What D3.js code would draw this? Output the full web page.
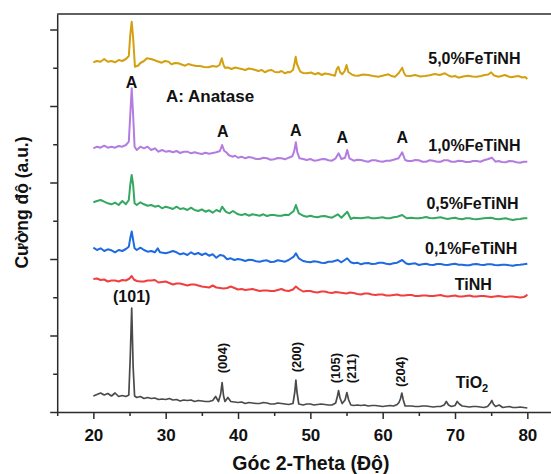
<!DOCTYPE html>
<html><head><meta charset="utf-8">
<script src="https://cdn.jsdelivr.net/npm/d3@7"></script>
<style>body{margin:0;background:#fff;} svg{display:block;font-family:"Liberation Sans",Arial,sans-serif;}</style>
</head><body>
<svg id="chart" width="551" height="474"></svg>
<script>
// ---- DATA (2-theta in degrees, intensity in arbitrary stacked units) ----
const xTicks = [20, 30, 40, 50, 60, 70, 80];
const xMinorTicks = [15, 25, 35, 45, 55, 65, 75, 85];
const yTicks = [0, 76.5, 153, 229.5, 306, 382.5];
const yMinorTicks = [38.25, 114.75, 191.25, 267.75, 344.25];

const tio2 = [[20,16],[20.5,17.5],[21,19],[21.5,17],[22,18.5],[22.5,16],[23,19],[23.5,15.5],[24,16.5],[24.5,15.5],[24.9,17],[25.1,55],[25.3,104],[25.5,45],[25.7,16],[26,14.5],[26.5,15.5],[27,13.5],[27.5,14.5],[28,13.5],[28.5,14],[29,12.5],[29.5,13],[30,12.5],[30.5,13.5],[31,12],[31.5,12.5],[32,11],[32.5,12],[33,11.5],[33.5,12],[34,10.5],[34.5,11.5],[35,11],[35.5,10.5],[36,10.5],[36.5,11.5],[36.9,15.5],[37.3,10.5],[37.6,18],[37.8,29.5],[38.0,16],[38.2,10.5],[38.6,14.5],[39,10.5],[39.5,10],[40,9.5],[40.5,10],[41,8.5],[41.5,9.5],[42,9],[42.5,8.5],[43,8.5],[43.5,9.5],[44,9],[44.5,8],[45,8],[45.5,9],[46,8.5],[46.5,8],[47,7.5],[47.6,8.5],[47.85,20],[48.0,32],[48.15,20],[48.4,8],[49,7],[49.5,8],[50,8],[50.5,7],[51,7.5],[51.5,8],[52,7.5],[52.5,7],[53,7],[53.5,9],[53.75,16],[53.9,21.5],[54.1,14],[54.4,8.5],[54.8,12],[55.05,19.5],[55.3,12],[55.6,7],[56,6.5],[56.5,7],[57,6.5],[57.5,7],[58,6],[58.5,6.5],[59,6.5],[59.5,6],[60,5.5],[60.5,6],[61,6.5],[61.5,6],[62,7.5],[62.25,9.5],[62.45,13],[62.65,19],[62.85,12],[63.1,6],[63.5,6],[64,6],[64.5,5.5],[65,5.5],[65.5,6],[66,6],[66.5,5.5],[67,5],[67.5,5.5],[68,5.5],[68.5,7],[68.8,10.5],[69.1,7],[69.5,5.5],[70,6.5],[70.3,10.5],[70.6,8],[71,6],[71.5,5.5],[72,5],[72.5,5.5],[73,5.5],[73.5,5],[74,4.5],[74.5,5.5],[74.9,9],[75.1,11.5],[75.3,8],[75.6,5.5],[76.1,7],[76.6,4.5],[77,5],[77.5,5.5],[78,4.5],[78.5,4.5],[79,5],[79.5,4.5],[80,4]];

const tinh = [[20,133],[20.5,133.5],[21,132],[21.5,132.5],[22,130.5],[22.5,131.5],[23,131.5],[23.5,130.5],[24,132],[24.5,131.5],[25,133.5],[25.3,136],[25.6,132.5],[26,131],[26.5,130.5],[27,130.5],[27.5,131.5],[28,131.5],[28.5,132],[29,129.5],[29.5,130],[30,130.5],[30.5,129],[31,127.5],[31.5,128.5],[32,128.5],[32.5,127.5],[33,126.5],[33.5,127.5],[34,127.5],[34.5,126.5],[35,125.5],[35.5,125],[36,124.5],[36.5,126.5],[37,124.5],[37.5,124],[38,123.5],[38.5,124],[39,125.5],[39.5,124],[40,122.5],[40.5,123],[41,122],[41.5,122.5],[42,123],[42.5,122],[43,121],[43.5,121.5],[44,121.5],[44.5,121],[45,121],[45.5,122],[46,123],[46.5,121.5],[47,121],[47.6,122.5],[48.0,125.5],[48.4,123],[49,120.5],[49.5,121],[50,121],[50.5,120],[51,119.5],[51.5,120.5],[52,120.5],[52.5,119.5],[53,119],[53.5,120],[54,119.5],[54.5,119],[55,118.5],[55.5,119.5],[56,119],[56.5,118],[57,117.5],[57.5,118.5],[58,118.5],[58.5,117.5],[59,117],[59.5,117.5],[60,117.5],[60.5,116.5],[61,116.5],[61.5,117],[62,117.5],[62.5,116.5],[63,116.5],[63.5,117],[64,117],[64.5,116],[65,116],[65.5,116.5],[66,116.5],[66.5,116],[67,116],[67.5,116.5],[68,117],[68.5,116],[69,115.5],[69.5,116],[70,116.5],[70.5,115.5],[71,115.5],[71.5,116],[72,116.5],[72.5,115.5],[73,115.5],[73.5,116],[74,116],[74.5,115.5],[75,115],[75.5,115.5],[76,116],[76.5,115.5],[77,115],[77.5,115.5],[78,115.5],[78.5,115],[79,114.5],[79.5,115],[79.8,116],[80,117.5]];

const fe01 = [[20,164.3],[20.5,162],[21,163.7],[21.5,161],[22,162.7],[22.5,161.7],[23,159.7],[23.5,162],[24,161],[24.5,163],[24.9,165.3],[25.1,173.7],[25.3,180.5],[25.5,172],[25.7,163.7],[26,162],[26.5,164.3],[27,162],[27.5,160.3],[28,161],[28.5,159.7],[28.9,163.7],[29.2,159.7],[30,158.7],[30.5,159.7],[31,161],[31.5,159.7],[32,157.7],[32.5,158.7],[33,157],[33.5,159.7],[34,157.7],[34.5,159],[35,157],[35.5,158.7],[36,156.3],[36.5,157.7],[37,154.3],[37.5,157],[38,156.3],[38.5,152.7],[39,153.7],[39.5,152],[40,153],[40.5,152.3],[41,151],[41.5,152.3],[42,152],[42.5,150.7],[43,150.3],[43.5,151.3],[44,151.7],[44.5,150],[45,150.3],[45.5,151.7],[46,151],[46.5,150.3],[47,152],[47.7,155.3],[48.0,158.7],[48.4,153.7],[49,151],[49.5,150.3],[50,149.7],[50.5,150.7],[51,150.3],[51.5,149.3],[52,149],[52.5,150.3],[53,150.3],[53.8,152],[54.3,149.7],[55.1,153.7],[55.6,149.7],[56,148.7],[56.5,149.3],[57,147.7],[57.5,148.7],[58,149],[58.5,148],[59,148.3],[59.5,149.3],[60,149.3],[60.5,148.3],[61,147.7],[61.5,148.7],[62,149.3],[62.7,152],[63.2,148.7],[63.6,147.7],[64,148.3],[64.5,148.7],[65,147],[65.5,147.7],[66,148.3],[66.5,147.3],[67,147],[67.5,148],[68,148],[68.5,147.3],[69,147],[69.5,147.7],[70,148.3],[70.5,147.3],[71,147.3],[71.5,146.7],[72,146.7],[72.5,147.7],[73,148],[73.5,147.3],[74,147],[74.5,147.7],[75,147.7],[75.5,147],[76,146.7],[76.5,147.3],[77,147.3],[77.5,146.7],[78,146.3],[78.5,147],[79,147.3],[79.5,147.7],[80,148.3]];

const fe05 = [[20,209.7],[20.5,211],[21,212],[21.5,210.3],[22,208.7],[22.5,207.7],[23,209.3],[23.5,207],[24,211],[24.5,207.7],[24.9,212],[25.1,227],[25.3,237],[25.5,227],[25.7,208.7],[26,207],[26.5,209.7],[27,207.7],[27.5,206.3],[28,207],[28.5,205.3],[29,206.3],[29.5,203.7],[30,205.3],[30.5,204.3],[31,203],[31.5,205.3],[32,203],[32.5,203.7],[33,202],[33.5,204.3],[34,202],[34.5,201],[35,202.7],[35.5,200.3],[36,201.7],[36.5,199.3],[37,202],[37.5,200.3],[37.8,205.3],[38.3,200.3],[38.8,198.7],[39.3,201],[40,197.7],[40.5,197],[41,198],[41.5,196.3],[42,197.7],[42.5,197],[43,196.3],[43.5,197.7],[44,196],[44.5,197],[45,197],[45.5,196.3],[46,196.3],[46.5,197.3],[47,197],[47.7,201],[48.0,207],[48.4,198.7],[49,196.3],[49.5,195.3],[50,196.3],[50.5,195.3],[51,194.7],[51.5,195.7],[52,196],[52.5,195],[53,194.3],[53.8,197.7],[54.3,194.3],[55.1,200.3],[55.6,193],[56,194.3],[56.5,194],[57,193.7],[57.5,194.3],[58,194.7],[58.5,193.7],[59,193.7],[59.5,194.3],[60,194.7],[60.5,193.7],[61,193.7],[61.5,194.7],[62,195.3],[62.7,197],[63.3,193.7],[64,194.3],[64.5,193.7],[65,193.7],[65.5,194.3],[66,195],[66.5,194],[67,193.7],[67.5,194.3],[68,194.7],[68.5,193.7],[69,193],[69.5,193.7],[70,194.3],[70.5,193.3],[71,192.7],[71.5,193.7],[72,193.7],[72.5,193],[73,192.7],[73.5,193.3],[74,193.7],[74.5,194],[75,194.3],[75.5,193.3],[76,192.7],[76.5,193.3],[77,193.7],[77.5,192.7],[78,192],[78.5,192.7],[79,193],[79.5,193.7],[80,193.7]];

const fe10 = [[20,263.7],[20.5,265.3],[21,264.3],[21.5,266.3],[22,264.3],[22.5,265.3],[23,264.3],[23.5,266],[24,265.3],[24.5,267],[24.9,270.3],[25.1,297],[25.3,323.7],[25.5,297],[25.7,265.3],[26,262],[26.5,265.3],[27,263.7],[27.5,265.3],[28,262],[28.5,263.7],[29,260.3],[29.5,262],[30,260.3],[30.5,261],[31,259.7],[31.5,261],[32,259],[32.5,260.3],[33,260.3],[33.5,258.7],[34,259.7],[34.5,258.7],[35,258],[35.5,259.3],[36,258.3],[36.5,259],[37,259.7],[37.5,261],[37.8,267],[38.1,261],[38.4,259.7],[38.7,257],[39.2,255.3],[39.6,256.3],[40,254.3],[40.5,255.3],[41,253.7],[41.5,255],[42,254.3],[42.5,253],[43,253],[43.5,254.3],[44,253.7],[44.5,252.3],[45,252.7],[45.5,254],[46,253.7],[46.5,252.7],[47,254.3],[47.5,255.7],[47.75,260.3],[48.0,269.7],[48.2,259.7],[48.5,253.7],[49,253],[49.5,252],[50,253],[50.5,251.3],[51,251.7],[51.5,252.7],[52,253],[52.5,251.7],[53,251.3],[53.5,253.7],[53.9,258.7],[54.3,253],[54.8,254.3],[55.1,262],[55.4,253.7],[56,251.3],[56.5,252.3],[57,252],[57.5,251],[58,250.3],[58.5,251.7],[59,251.7],[59.5,250.7],[60,250.3],[60.5,251.3],[61,251.3],[61.5,252.3],[62.2,253.7],[62.7,259.7],[63.1,252],[63.5,251],[64,251],[64.5,252],[65,251.7],[65.5,250.3],[66,250.3],[66.5,251.7],[67,251.3],[67.5,250.3],[68,250.3],[68.5,251.7],[69,251.7],[69.5,250.3],[70,250.3],[70.5,251.3],[71,251],[71.5,250],[72,250],[72.5,251],[73,251],[73.5,250.3],[74,251.7],[74.6,253],[75.1,254.3],[75.6,250.3],[76,251],[76.5,250],[77,249.7],[77.5,251],[78,250.7],[78.5,249.7],[79,249.3],[79.5,250.3],[80,250.3]];

const fe50 = [[20,349.7],[20.5,351],[21,350.3],[21.5,353],[22,350.3],[22.5,351],[23,349.7],[23.5,352],[24,351],[24.5,353],[24.9,356],[25.1,377],[25.3,390.3],[25.5,374],[25.75,345.3],[26.2,346.5],[26.5,349],[27,351],[27.4,353.7],[28.1,352.7],[28.75,351],[29.45,349.3],[29.9,351],[30.4,350.3],[30.8,347.7],[31.3,349],[31.75,348.7],[32.2,347.5],[32.7,346.3],[33.1,348],[33.6,347],[34.2,346],[34.75,346],[35.3,345],[35.9,344.7],[36.5,346],[37.05,345.3],[37.45,347],[37.75,353.7],[38.0,347],[38.2,344.3],[38.6,344.5],[39.1,343],[39.6,344.5],[40.05,343.7],[40.5,343],[41,342],[41.5,343.5],[41.9,343],[42.4,342],[42.8,341],[43.3,342],[43.7,339.7],[44.2,341.5],[44.65,342],[45.1,340],[45.6,339.7],[46,341],[46.5,338.7],[46.9,340],[47.2,339.7],[47.6,342],[47.85,350],[47.97,355.3],[48.15,348],[48.6,340.3],[49,339],[49.5,338.7],[50.1,339.5],[50.65,337.7],[51.1,339],[51.6,337],[52.0,338.5],[52.5,338],[53.0,337],[53.4,336.3],[53.65,343],[53.87,345.3],[54.1,340],[54.4,337.7],[54.75,341],[55.0,347],[55.25,340],[55.7,337.7],[56.1,336.5],[56.6,336.3],[57.3,337.5],[58,337],[58.7,336],[59.4,335.3],[60.1,336.5],[60.8,337.7],[61.2,336],[61.7,335.3],[62.2,338.7],[62.5,342],[62.7,344.3],[62.95,339],[63.2,336.3],[63.8,336],[64.5,337],[65.2,335.5],[65.85,336],[66.5,336.8],[67.2,338],[67.9,337],[68.6,338.7],[69.1,336.5],[69.5,335.3],[70.0,336],[70.5,334.3],[71.1,335.5],[71.8,336.3],[72.4,335.5],[73.0,335.3],[73.6,336],[74.1,337],[74.6,337.5],[75.0,339.7],[75.4,336.5],[76.0,335.3],[76.4,336],[76.9,337],[77.4,335.5],[77.8,334.7],[78.3,335.5],[78.75,336],[79.3,334.5],[79.7,335],[80,333]];

const seriesNames = ["TiO2", "TiNH", "0,1%FeTiNH", "0,5%FeTiNH", "1,0%FeTiNH", "5,0%FeTiNH"];
const seriesData = [tio2, tinh, fe01, fe05, fe10, fe50];
const seriesColors = ["#4a4a4a", "#f03f3f", "#1e6be0", "#34a862", "#b27ce0", "#d4a00f"];

// label anchors (data coordinates)
const seriesLabelPos = [[70.1, 24], [75.1, 121.7], [78.6, 157.7], [78.8, 203], [79.05, 261.5], [79.05, 348.5]];
const anataseMarks = [[25.27, 324], [37.88, 275.3], [47.97, 276], [54.42, 268.7], [62.71, 268.7]];
const millerLabels = ["(004)", "(200)", "(105)", "(211)", "(204)"];
const millerPos = [[37.98, 38.7], [48.2, 39.7], [53.6, 28.7], [55.84, 28.7], [62.6, 25]];

// ---- CHART ----
const svg = d3.select("#chart");
const x = d3.scaleLinear().domain([15, 85]).range([57.2, 563.5]);
const y = d3.scaleLinear().domain([0, 398]).range([412, 14]);
const axisColor = "#2b2b2b";

const line = d3.line().x(d => x(d[0])).y(d => y(d[1]));
seriesData.forEach((s, i) => {
  svg.append("path").datum(s)
    .attr("d", line)
    .attr("fill", "none")
    .attr("stroke", seriesColors[i])
    .attr("stroke-width", i === 0 ? 1.7 : 2)
    .attr("stroke-linejoin", "round");
});

// frame top
svg.append("line").attr("x1", x(15)).attr("x2", x(85)).attr("y1", y(398)).attr("y2", y(398))
  .attr("stroke", axisColor).attr("stroke-width", 1.5);
svg.append("line").attr("x1", x(85)).attr("x2", x(85)).attr("y1", y(398)).attr("y2", y(0))
  .attr("stroke", axisColor).attr("stroke-width", 1.5);

// x axis
const gx = svg.append("g").attr("transform", `translate(0,${y(0)})`)
  .call(d3.axisBottom(x).tickValues(xTicks).tickSize(7).tickSizeOuter(0).tickPadding(9.5).tickFormat(d3.format("d")));
svg.append("g").attr("transform", `translate(0,${y(0)})`)
  .call(d3.axisBottom(x).tickValues(xMinorTicks).tickSize(4).tickSizeOuter(0).tickFormat(""))
  .select(".domain").remove();
// y axis
svg.append("g").attr("transform", `translate(${x(15)},0)`)
  .call(d3.axisLeft(y).tickValues(yTicks).tickSize(7).tickSizeOuter(0).tickFormat(""));
svg.append("g").attr("transform", `translate(${x(15)},0)`)
  .call(d3.axisLeft(y).tickValues(yMinorTicks).tickSize(4).tickSizeOuter(0).tickFormat(""))
  .select(".domain").remove();

svg.selectAll(".domain").attr("stroke", axisColor).attr("stroke-width", 1.5);
svg.selectAll(".tick line").attr("stroke", axisColor).attr("stroke-width", 1.5);
gx.selectAll("text").attr("font-size", 17).attr("font-weight", "bold").attr("fill", "#111")
  .attr("font-family", '"Liberation Sans", Arial, sans-serif');

// axis titles
svg.append("text").attr("x", (x(20) + x(80)) / 2 + 0.5).attr("y", 469.5)
  .attr("text-anchor", "middle").attr("font-size", 19.5).attr("font-weight", "bold").attr("fill", "#111")
  .text("Góc 2-Theta (Độ)");
svg.append("text").attr("transform", "translate(28,202.5) rotate(-90)")
  .attr("text-anchor", "middle").attr("font-size", 17.5).attr("font-weight", "bold").attr("fill", "#111")
  .text("Cường độ (a.u.)");

// series labels
seriesNames.forEach((n, i) => {
  const p = seriesLabelPos[i];
  const t = svg.append("text").attr("x", x(p[0])).attr("y", y(p[1]))
    .attr("font-size", 16).attr("font-weight", "bold").attr("fill", "#111");
  if (n === "TiO2") {
    t.attr("text-anchor", "start");
    t.append("tspan").text("TiO");
    t.append("tspan").attr("font-size", 11).attr("dy", 4).text("2");
  } else {
    t.attr("text-anchor", "end").text(n);
  }
});

// Anatase markers
anataseMarks.forEach(p => {
  svg.append("text").attr("x", x(p[0])).attr("y", y(p[1])).attr("text-anchor", "middle")
    .attr("font-size", 16).attr("font-weight", "bold").attr("fill", "#111").text("A");
});
svg.append("text").attr("x", x(30.04)).attr("y", y(309.7))
  .attr("font-size", 17).attr("font-weight", "bold").attr("fill", "#111").text("A: Anatase");

// Miller indices
svg.append("text").attr("x", x(25.3)).attr("y", y(110)).attr("text-anchor", "middle")
  .attr("font-size", 16).attr("font-weight", "bold").attr("fill", "#111").text("(101)");
millerLabels.forEach((m, i) => {
  const p = millerPos[i];
  svg.append("text").attr("transform", `translate(${x(p[0])},${y(p[1])}) rotate(-90)`)
    .attr("dy", "0.3em").attr("text-anchor", "start")
    .attr("font-size", 13).attr("font-weight", "bold").attr("fill", "#111").text(m);
});
</script>
</body></html>
